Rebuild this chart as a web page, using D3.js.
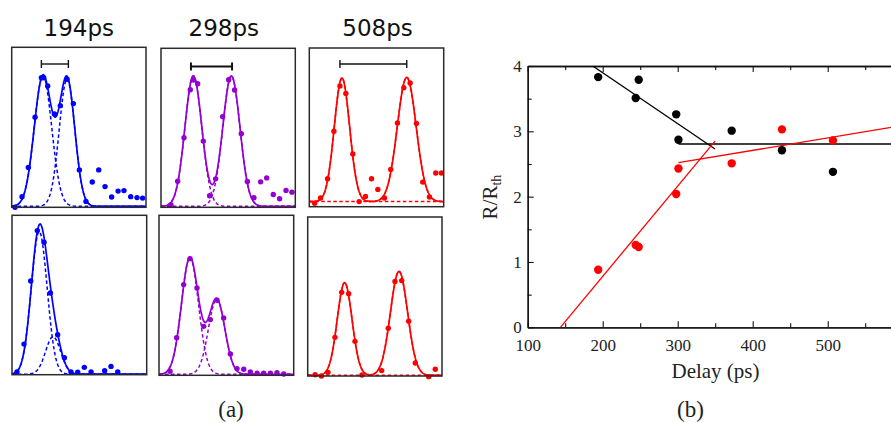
<!DOCTYPE html>
<html>
<head>
<meta charset="utf-8">
<script src="https://cdn.jsdelivr.net/npm/d3@7"></script>
<style>
  html, body { margin: 0; padding: 0; background: #fff; }
  svg { display: block; }
</style>
</head>
<body>
<svg id="chart" width="891" height="423"></svg>
<script>
// ---------------- DATA ----------------
// (a) panel titles and colours
const panelTitles = ["194ps", "298ps", "508ps"];
const panelColors = ["#0000ff", "#9400d3", "#ff0000"];

// (a) measured points, [position, intensity] in relative units (0-100)
const pts194Top = [[2.5,-0.6],[7.7,6.1],[12.4,24.5],[17.4,56],[22.1,80.9],[23.8,80.9],[26.8,75.7],[31.8,58.1],[36.2,63.3],[41.2,79.9],[45.9,64.6],[50.4,22.9],[55.3,3.1],[60.0,15.3],[64.8,22.9],[69.5,12.4],[74.4,5.9],[79.2,9.6],[83.6,9.9],[88.6,6.1],[93.3,5.5],[97.5,5.2]];
const pts298Top = [[7.4,1.0],[12.4,15.9],[17.1,43.4],[21.8,73.8],[24.1,79.9],[27.3,77.6],[31.5,41.3],[36.2,6.7],[40.7,17.4],[45.9,56.8],[50.4,80.1],[54.8,73.6],[59.8,45.9],[64.3,15.7],[69.2,5.5],[74.2,15.5],[78.7,18.0],[83.6,7.5],[88.3,4.8],[93.1,10.1],[97.5,9.0]];
const pts508Top = [[4.0,2.1],[8.4,5.5],[13.6,17.6],[18.3,47.5],[22.8,76.1],[27.2,71.4],[32.4,33.2],[37.1,3.2],[41.8,6.5],[46.3,17.6],[51.0,10.9],[55.9,5.5],[60.6,23.5],[65.6,52.7],[70.3,75.0],[75.0,77.9],[79.7,52.5],[84.4,15.5],[89.4,6.1],[94.1,21.2],[98.3,21.2]];
const pts194Bot = [[3.7,1.7],[8.9,19.2],[13.9,58.8],[18.8,90.4],[23.8,83.1],[28.5,51.3],[33.9,25.1],[38.9,10.7],[43.8,1.7],[48.8,1.5],[53.7,4.6],[58.7,1.7],[68.8,2.5],[73.5,5.2],[78.5,1.7]];
const pts298Bot = [[8.2,2.5],[13.1,23.5],[18.3,56.7],[23.0,72.9],[28.2,54.6],[33.2,30.6],[38.1,34.8],[43.1,46.9],[48.0,35.8],[53.0,13.3],[57.9,4.2],[62.9,3.8],[67.8,2.1],[72.8,1.3],[77.7,1.3],[82.7,1.3],[87.6,1.7],[92.6,0.8]];
const pts508Bot = [[5.5,0.8],[10.2,0],[15.1,2.3],[20.3,24.3],[25.3,52.6],[30.5,51.8],[35.2,21.8],[40.4,0.6],[55.1,3.4],[60.0,30.0],[65.0,59.5],[70.0,60.0],[75.2,34.4],[80.1,8.2],[90.1,-0.4],[95.0,4.2]];

// (a) two-Gaussian fit parameters: [amp1, centre1, width1, amp2, centre2, width2]
const fit194Top = [82, 23.3, 6.5, 80, 41.2, 5.8];
const fit298Top = [82.5, 24.1, 6.3, 82.5, 52.4, 6.4];
const fit508Top = [77.9, 24.3, 5.7, 78.3, 72.5, 7.0];
const fit194Bot = [89.5, 20.2, 5.9, 23.5, 30.5, 5.6];
const fit298Bot = [73, 23.0, 6.3, 47, 42.8, 6.1];
const fit508Bot = [58.3, 27.5, 5.5, 65.4, 68.0, 6.4];
const fitBaselines = [0, 0, 3.2, 0.3, 0.6, 0.4];

// (a) separation bars in top row: [start, end, level]
const separationBars = [[22.1, 42.2, 89.5], [22.3, 52.9, 88.5], [22.8, 72.5, 89.9]];

// (b) R/Rth versus delay
const delayBlack = [194, 248, 244, 298, 301, 372, 439, 507];
const ratioBlack = [3.83, 3.79, 3.51, 3.26, 2.87, 3.01, 2.71, 2.38];
const delayRed   = [194, 244, 248, 298, 301, 372, 439, 507];
const ratioRed   = [0.88, 1.26, 1.23, 2.04, 2.43, 2.51, 3.03, 2.86];
// (b) fitted straight lines, [[x1,y1],[x2,y2]]
const blackFitA = [[186.7, 4.0], [349.8, 2.73]];
const blackFitB = [[301, 2.806], [600, 2.806]];
const redFitA   = [[143.6, 0], [349.8, 2.85]];
const redFitB   = [[301, 2.52], [600, 3.09]];
// (b) ticks
const xLabelTicks = [100, 200, 300, 400, 500];
const xMajorTicks = [100, 200, 300, 400, 500, 600];
const xMinorTicks = [150, 250, 350, 450, 550];
const yMajorTicks = [0, 1, 2, 3, 4];
const yMinorTicks = [0.5, 1.5, 2.5, 3.5];

// ---------------- DRAW ----------------
const svg = d3.select("#chart");
svg.append("rect").attr("width", 891).attr("height", 423).attr("fill", "#fff");

const panelPoints = [pts194Top, pts298Top, pts508Top, pts194Bot, pts298Bot, pts508Bot];
const panelFits = [fit194Top, fit298Top, fit508Top, fit194Bot, fit298Bot, fit508Bot];
// layout boxes: [left, top, width, height, yMin]
const boxes = [
  [11.7, 47.3, 134.3, 160, -0.6],
  [161, 48.3, 134.3, 159, -0.6],
  [309.3, 48, 134.4, 158.7, 0],
  [12, 215.3, 134.7, 159.4, 0],
  [159, 215.3, 134.7, 160, 0],
  [307.7, 217, 134.3, 159, 0]
];
const titleX = [78.8, 223.8, 377.5];

titleX.forEach((tx, i) => {
  svg.append("text").attr("x", tx).attr("y", 36)
    .attr("text-anchor", "middle")
    .attr("font-family", "DejaVu Sans").attr("font-size", 23)
    .attr("fill", "#111").text(panelTitles[i]);
});

const gauss = (a, m, s, x) => a * Math.exp(-((x - m) * (x - m)) / (2 * s * s));
const sampleX = d3.range(0, 100.01, 0.5);

boxes.forEach((b, i) => {
  const [L, T, Wd, Ht, yMin] = b;
  const col = panelColors[i % 3];
  const xs = d3.scaleLinear().domain([0, 100]).range([L, L + Wd]);
  const ys = d3.scaleLinear().domain([yMin, 100]).range([T + Ht, T]);
  const g = svg.append("g");
  const f = panelFits[i];
  const base = fitBaselines[i];
  const line = d3.line().x(d => xs(d[0])).y(d => ys(d[1]));

  const g1 = sampleX.map(x => [x, base + gauss(f[0], f[1], f[2], x)]);
  const g2 = sampleX.map(x => [x, base + gauss(f[3], f[4], f[5], x)]);
  const tot = sampleX.map(x => [x, base + gauss(f[0], f[1], f[2], x) + gauss(f[3], f[4], f[5], x)]);

  [g1, g2].forEach(c => g.append("path").attr("d", line(c))
    .attr("fill", "none").attr("stroke", col).attr("stroke-width", 1.5)
    .attr("stroke-dasharray", "3.5,2.5"));
  g.append("path").attr("d", line(tot)).attr("fill", "none")
    .attr("stroke", col).attr("stroke-width", 1.7);

  g.selectAll("circle").data(panelPoints[i]).join("circle")
    .attr("cx", d => xs(d[0])).attr("cy", d => ys(d[1])).attr("r", 2.7)
    .attr("fill", col);

  g.append("rect").attr("x", L).attr("y", T).attr("width", Wd).attr("height", Ht)
    .attr("fill", "none").attr("stroke", "#2a2a2a").attr("stroke-width", 1.5);

  if (i < 3) {
    const sb = separationBars[i];
    const sw = i === 1 ? 2 : 1.4;
    const bg = g.append("g").attr("stroke", "#111").attr("stroke-width", sw);
    bg.append("line").attr("x1", xs(sb[0])).attr("x2", xs(sb[1])).attr("y1", ys(sb[2])).attr("y2", ys(sb[2]));
    [sb[0], sb[1]].forEach(xv => bg.append("line").attr("x1", xs(xv)).attr("x2", xs(xv))
      .attr("y1", ys(sb[2]) - 4).attr("y2", ys(sb[2]) + 4));
  }
});

svg.append("text").attr("x", 231).attr("y", 417).attr("text-anchor", "middle")
  .attr("font-family", "Liberation Serif").attr("font-size", 23).attr("fill", "#222").text("(a)");

// ---- (b) ----
const xR = d3.scaleLinear().domain([100, 600]).range([527.7, 902.7]);
const yR = d3.scaleLinear().domain([0, 4]).range([327.3, 66]);
const serif = "Liberation Serif";

svg.append("clipPath").attr("id", "clipB").append("rect")
  .attr("x", xR(100)).attr("y", yR(4)).attr("width", xR(600) - xR(100)).attr("height", yR(0) - yR(4));

function styleAxis(g) {
  g.select(".domain").attr("stroke", "#111").attr("stroke-width", 1.3);
  g.selectAll(".tick line").attr("stroke", "#111").attr("stroke-width", 1.1);
  g.selectAll(".tick text").attr("font-family", serif).attr("font-size", 17).attr("fill", "#222");
}
svg.append("g").attr("transform", `translate(0,${yR(0)})`)
  .call(d3.axisBottom(xR).tickValues(xLabelTicks).tickSize(-6).tickSizeOuter(0).tickPadding(12).tickFormat(d3.format("d"))).call(styleAxis);
svg.append("g").attr("transform", `translate(0,${yR(0)})`)
  .call(d3.axisBottom(xR).tickValues(xMinorTicks).tickSize(-4).tickSizeOuter(0).tickFormat("")).call(styleAxis);
svg.append("g").attr("transform", `translate(0,${yR(4)})`)
  .call(d3.axisTop(xR).tickValues(xMajorTicks).tickSize(-6).tickSizeOuter(0).tickFormat("")).call(styleAxis);
svg.append("g").attr("transform", `translate(0,${yR(4)})`)
  .call(d3.axisTop(xR).tickValues(xMinorTicks).tickSize(-4).tickSizeOuter(0).tickFormat("")).call(styleAxis);
svg.append("g").attr("transform", `translate(${xR(100)},0)`)
  .call(d3.axisLeft(yR).tickValues(yMajorTicks).tickSize(-6).tickSizeOuter(0).tickPadding(6).tickFormat(d3.format("d"))).call(styleAxis);
svg.append("g").attr("transform", `translate(${xR(100)},0)`)
  .call(d3.axisLeft(yR).tickValues(yMinorTicks).tickSize(-4).tickSizeOuter(0).tickFormat("")).call(styleAxis);
svg.append("g").attr("transform", `translate(${xR(600)},0)`)
  .call(d3.axisRight(yR).tickValues(yMajorTicks).tickSize(-6).tickSizeOuter(0).tickFormat("")).call(styleAxis);

const plotB = svg.append("g").attr("clip-path", "url(#clipB)");
const lineB = d3.line().x(d => xR(d[0])).y(d => yR(d[1]));
[[blackFitA, "#000"], [blackFitB, "#000"], [redFitA, "#ff0000"], [redFitB, "#ff0000"]].forEach(([seg, c]) => {
  plotB.append("path").attr("d", lineB(seg)).attr("fill", "none").attr("stroke", c).attr("stroke-width", 1.3);
});
delayBlack.forEach((d, i) => {
  svg.append("circle").attr("cx", xR(d)).attr("cy", yR(ratioBlack[i])).attr("r", 4.2).attr("fill", "#000");
});
delayRed.forEach((d, i) => {
  svg.append("circle").attr("cx", xR(d)).attr("cy", yR(ratioRed[i])).attr("r", 4.2).attr("fill", "#ff0000");
});

svg.append("text").attr("x", 715.5).attr("y", 378).attr("text-anchor", "middle")
  .attr("font-family", serif).attr("font-size", 21).attr("fill", "#222").text("Delay (ps)");

const yl = svg.append("text").attr("transform", "translate(497,197) rotate(-90)")
  .attr("text-anchor", "middle").attr("font-family", serif).attr("font-size", 21).attr("fill", "#222");
yl.append("tspan").text("R/R");
yl.append("tspan").attr("dy", 4).attr("font-size", 14).text("th");

svg.append("text").attr("x", 690.5).attr("y", 417).attr("text-anchor", "middle")
  .attr("font-family", serif).attr("font-size", 23).attr("fill", "#222").text("(b)");
</script>
</body>
</html>
